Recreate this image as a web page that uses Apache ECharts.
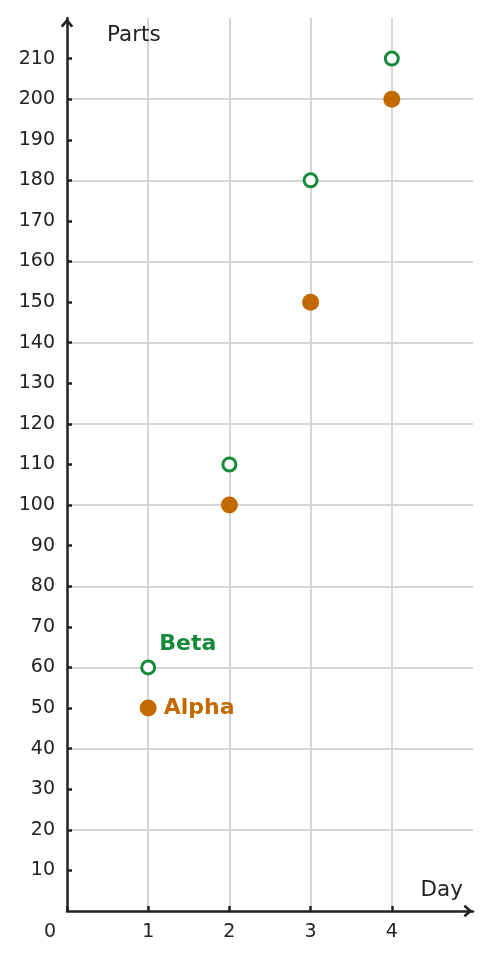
<!DOCTYPE html>
<html>
<head>
<meta charset="utf-8">
<script src="https://cdn.jsdelivr.net/npm/echarts@6/dist/echarts.min.js"></script>
<style>
html, body { margin: 0; padding: 0; background: #fff; }
#chart { width: 491px; height: 959px; }
</style>
</head>
<body>
<div id="chart"></div>
<script>
var days = [1, 2, 3, 4];
var alphaValues = [50, 100, 150, 200];
var betaValues = [60, 110, 180, 210];
var seriesNames = ['Alpha', 'Beta'];

var axisColor = '#222222';
var gridColor = '#d6d6d6';
var alphaColor = '#c26a00';
var betaColor = '#178a3c';
var fontFamily = 'DejaVu Sans';
// 空心箭头
var chevron = 'path://M6,0 L12,7 L10,8.6 L6,3.8 L2,8.6 L0,7 Z';

function buildData(values, label) {
	return values.map(function(v, i) {
		var item = { value: [days[i], v] };
		if (i === 0) item.label = label;
		return item;
	});
}

var chart = echarts.init(document.getElementById('chart'));
chart.setOption({
	animation: false,
	grid: { left: 67, right: 18, top: 18, bottom: 48 },
	xAxis: {
		type: 'value',
		min: 0,
		max: 5,
		interval: 1,
		name: 'Day',
		nameLocation: 'end',
		nameGap: -10,
		nameTextStyle: {
			fontFamily: fontFamily, fontSize: 21.5, color: axisColor,
			align: 'right', verticalAlign: 'bottom', padding: [0, 0, 10, 0]
		},
		axisLine: {
			lineStyle: { color: axisColor, width: 2.5 },
			symbol: ['none', chevron],
			symbolSize: [13, 9],
			symbolOffset: [0, -5]
		},
		axisTick: { inside: true, length: 5, lineStyle: { color: axisColor, width: 2.5 } },
		axisLabel: {
			showMinLabel: true,
			showMaxLabel: false,
			margin: 12,
			fontFamily: fontFamily, fontSize: 19, color: axisColor,
			formatter: function(v) { return v === 0 ? '{o|0}' : String(v); },
			rich: { o: { fontFamily: fontFamily, fontSize: 19, color: axisColor, padding: [0, 34, 0, 0] } }
		},
		splitLine: { show: true, showMinLine: false, showMaxLine: false, lineStyle: { color: gridColor, width: 2 } }
	},
	yAxis: [{
		type: 'value',
		min: 0,
		max: 220,
		interval: 10,
		name: 'Parts',
		nameLocation: 'end',
		nameGap: -17,
		nameTextStyle: {
			fontFamily: fontFamily, fontSize: 21.5, color: axisColor,
			align: 'left', verticalAlign: 'middle', padding: [0, 0, 0, 40]
		},
		axisLine: {
			show: true,
			lineStyle: { color: axisColor, width: 2.5 },
			symbol: ['none', chevron],
			symbolSize: [13, 9],
			symbolOffset: [0, -5]
		},
		axisTick: { show: true, inside: true, length: 5, lineStyle: { color: axisColor, width: 2.5 } },
		axisLabel: {
			showMinLabel: false,
			showMaxLabel: false,
			margin: 12,
			fontFamily: fontFamily, fontSize: 19, color: axisColor
		},
		splitLine: { show: false }
	}, {
		// 只画横向网格线，每20一条
		type: 'value',
		min: 0,
		max: 220,
		interval: 20,
		position: 'left',
		axisLine: { show: false },
		axisTick: { show: false },
		axisLabel: { show: false },
		splitLine: { show: true, showMinLine: false, showMaxLine: false, lineStyle: { color: gridColor, width: 2 } }
	}],
	series: [{
		name: seriesNames[0],
		type: 'scatter',
		yAxisIndex: 0,
		symbol: 'circle',
		symbolSize: 17,
		itemStyle: { color: alphaColor, opacity: 1 },
		data: buildData(alphaValues, {
			show: true, position: 'right', distance: 7,
			formatter: seriesNames[0],
			fontFamily: fontFamily, fontSize: 22, fontWeight: 'bold', color: alphaColor
		})
	}, {
		name: seriesNames[1],
		type: 'scatter',
		yAxisIndex: 0,
		symbol: 'circle',
		symbolSize: 13,
		itemStyle: { color: '#ffffff', borderColor: betaColor, borderWidth: 3, opacity: 1 },
		data: buildData(betaValues, {
			show: true, position: 'right', distance: 3, offset: [0, -23],
			formatter: seriesNames[1],
			fontFamily: fontFamily, fontSize: 22, fontWeight: 'bold', color: betaColor
		})
	}]
});
</script>
</body>
</html>
